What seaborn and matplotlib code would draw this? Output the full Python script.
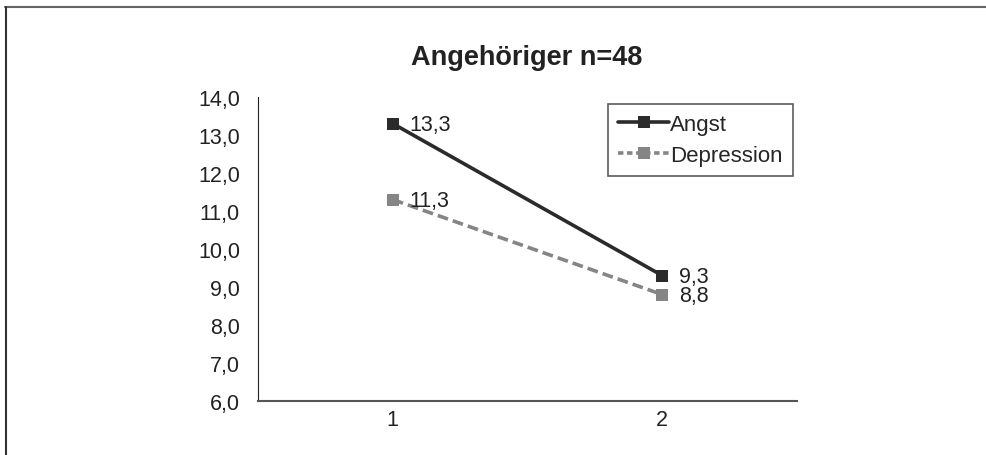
import pandas as pd
import seaborn as sns
import matplotlib.pyplot as plt
from matplotlib.lines import Line2D

# Daten
zeitpunkte = [1, 2]
angst = [13.3, 9.3]
depression = [11.3, 8.8]
titel = 'Angehöriger n=48'

dados = pd.DataFrame({
    'Zeitpunkt': zeitpunkte * 2,
    'Wert': angst + depression,
    'Skala': ['Angst'] * 2 + ['Depression'] * 2,
})

sns.set_style('white')
plt.rcParams['font.family'] = ['Liberation Sans', 'DejaVu Sans']

fig = plt.figure(figsize=(9.86, 4.56), dpi=100)
ax = fig.add_axes([0.2617, 0.1184, 0.5467, 0.6667])

farben = {'Angst': '#2b2b2b', 'Depression': '#858585'}
stile = {'Angst': '', 'Depression': (3, 1.4)}
sns.lineplot(data=dados, x='Zeitpunkt', y='Wert', hue='Skala', style='Skala',
             palette=farben, dashes=stile, markers={'Angst': 's', 'Depression': 's'},
             markersize=9, markeredgewidth=0, linewidth=2.6, ax=ax, legend=False)

# Datenbeschriftungen
for werte in [angst, depression]:
    for x, y in zip(zeitpunkte, werte):
        ax.annotate(f'{y:.1f}'.replace('.', ','), (x, y), xytext=(12, -1),
                    textcoords='offset points', ha='left', va='center', fontsize=15.5,
                    color='#222222')

ax.set_xlim(0.5, 2.5)
ax.set_ylim(6, 14)
ax.set_yticks(range(6, 15))
ax.set_yticklabels([f'{v},0' for v in range(6, 15)], fontsize=15.5, color='#222222')
ax.set_xticks([0.5, 1.5, 2.5])
ax.set_xticklabels([])
ax.set_xticks([1, 2], minor=True)
ax.set_xticklabels(['1', '2'], minor=True, fontsize=15.5, color='#222222')
ax.tick_params(axis='x', which='minor', length=0, pad=6)
ax.tick_params(axis='x', which='major', length=5, width=1, color='#333333', direction='out')
ax.tick_params(axis='y', length=7, width=1, color='#333333', direction='out', pad=6)
ax.set_xlabel('')
ax.set_ylabel('')
for s in ['top', 'right']:
    ax.spines[s].set_visible(False)
ax.spines['left'].set_color('#222222')
ax.spines['bottom'].set_color('#555555')
ax.spines['bottom'].set_linewidth(1.5)

fig.text(0.5345, 0.872, titel, ha='center', va='center', fontsize=19.5, fontweight='bold',
         color='#222222')

handles = [Line2D([], [], color=farben['Angst'], lw=2.6, marker='s', markersize=9, markeredgewidth=0),
           Line2D([], [], color=farben['Depression'], lw=2.6, ls=(0, (1.5, 1)), marker='s',
                  markersize=9, markeredgewidth=0)]
leg = fig.legend(handles, ['Angst', 'Depression'], loc='upper left',
                 bbox_to_anchor=(608 / 986, 1 - 105 / 456), fontsize=16, frameon=True,
                 fancybox=False, edgecolor='#333333', handlelength=2.3, handletextpad=0.05,
                 borderpad=0.45, labelspacing=0.45, borderaxespad=0)
leg.get_frame().set_linewidth(1.2)

# Rahmen
fig.add_artist(Line2D([5 / 986, 1], [1 - 7.5 / 456] * 2, color='#666666', lw=1.5))
fig.add_artist(Line2D([5.5 / 986] * 2, [0, 1 - 7.5 / 456], color='#333333', lw=1.5))

fig.savefig('out.png', dpi=100)
